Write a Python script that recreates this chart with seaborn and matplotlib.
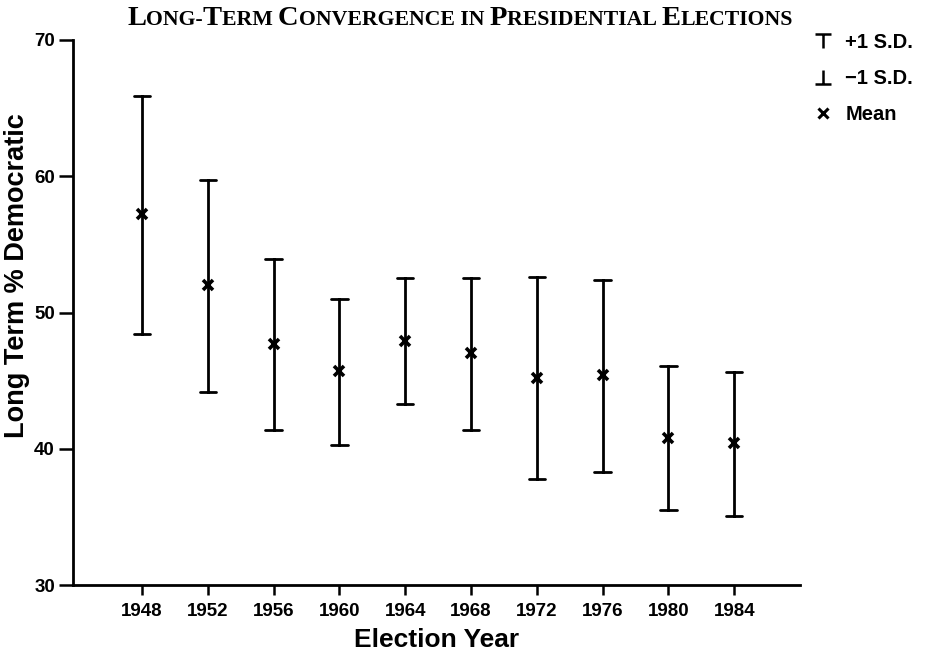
import numpy as np
import pandas as pd
import matplotlib
matplotlib.use("Agg")
import matplotlib.pyplot as plt
import seaborn as sns
from matplotlib.path import Path
from matplotlib.lines import Line2D

# ---- data ----
years = [1948, 1952, 1956, 1960, 1964, 1968, 1972, 1976, 1980, 1984]
plus_sd = [65.9, 59.7, 53.9, 51.0, 52.5, 52.5, 52.6, 52.4, 46.1, 45.6]
means = [57.2, 52.0, 47.7, 45.7, 47.9, 47.0, 45.2, 45.4, 40.8, 40.4]
minus_sd = [48.4, 44.2, 41.4, 40.3, 43.3, 41.4, 37.8, 38.3, 35.5, 35.1]
y_ticks = [30, 40, 50, 60, 70]
legend_labels = ["+1 S.D.", "\u22121 S.D.", "Mean"]

rows = []
for yr, lo, m, hi in zip(years, minus_sd, means, plus_sd):
    for v in (lo, m, hi):
        rows.append({"year": yr, "value": v})
df = pd.DataFrame(rows)

sns.set_style("ticks")
plt.rcParams["font.family"] = ["Liberation Sans", "DejaVu Sans"]
plt.rcParams["font.weight"] = "bold"
for k in ("text.color", "axes.labelcolor", "xtick.color", "ytick.color"):
    plt.rcParams[k] = "black"

fig = plt.figure(figsize=(9.25, 6.59), dpi=100)
ax = fig.add_axes([73 / 925, 74 / 659, (800 - 73) / 925, (585 - 40) / 659])

sns.pointplot(
    data=df, x="year", y="value",
    estimator="median",
    errorbar=lambda v: (v.min(), v.max()),
    native_scale=True,
    color="black",
    marker="x", linestyle="none",
    markersize=7.5, markeredgewidth=2.6,
    capsize=0.25,
    err_kws={"linewidth": 2.0},
    ax=ax,
)

ax.set_xlim(1943.8, 1988.0)
ax.set_ylim(30, 70)
ax.set_xticks(years)
ax.set_xticklabels([str(y) for y in years])
ax.set_yticks(y_ticks)
ax.set_yticklabels([str(t) for t in y_ticks])
ax.tick_params(axis="x", direction="out", length=7, width=1.8, labelsize=13.5, pad=6)
ax.tick_params(axis="y", direction="out", length=10, width=1.8, labelsize=13.5, pad=3)
for lbl in ax.get_xticklabels() + ax.get_yticklabels():
    lbl.set_fontweight("bold")
for side in ("top", "right"):
    ax.spines[side].set_visible(False)
for side in ("left", "bottom"):
    ax.spines[side].set_linewidth(2.0)
    ax.spines[side].set_color("black")

ax.set_xlabel("Election Year", fontsize=19, fontweight="bold", labelpad=6)
ax.set_ylabel("Long Term % Democratic", fontsize=19.5, fontweight="bold", labelpad=3)
ax.yaxis.label.set_y(0.567)

# ---- legend with custom T / inverted T markers ----
top_cap = Path([(-1, 0.8), (1, 0.8), (0, 0.8), (0, -0.8)],
               [Path.MOVETO, Path.LINETO, Path.MOVETO, Path.LINETO])
bot_cap = Path([(-1, -0.8), (1, -0.8), (0, -0.8), (0, 0.8)],
               [Path.MOVETO, Path.LINETO, Path.MOVETO, Path.LINETO])
handles = [
    Line2D([], [], marker=top_cap, linestyle="none", color="black",
           markersize=12, markeredgewidth=1.8),
    Line2D([], [], marker=bot_cap, linestyle="none", color="black",
           markersize=12, markeredgewidth=1.8),
    Line2D([], [], marker="x", linestyle="none", color="black",
           markersize=7, markeredgewidth=2.2),
]
leg = ax.legend(handles, legend_labels, loc="upper left",
                bbox_to_anchor=(795 / 925, 1 - 15 / 659),
                bbox_transform=fig.transFigure, frameon=False,
                handlelength=1.0, handletextpad=0.6, labelspacing=0.85,
                prop={"weight": "bold", "size": 14.5})

# ---- small-caps title ----
pieces = [("L", 20.5), ("ONG-", 15.7), ("T", 20.5), ("ERM ", 15.7), ("C", 20.5),
          ("ONVERGENCE IN ", 15.7), ("P", 20.5), ("RESIDENTIAL ", 15.7),
          ("E", 20.5), ("LECTIONS", 15.7)]
base_y = 1 - 25 / 659
prev = None
for txt, sz in pieces:
    kw = dict(fontsize=sz, fontfamily="Liberation Serif", fontweight="bold",
              va="baseline", ha="left", color="black")
    if prev is None:
        prev = fig.text(127 / 925, base_y, txt, **kw)
    else:
        prev = ax.annotate(txt, xy=(1, base_y),
                           xycoords=(prev, "figure fraction"),
                           annotation_clip=False, **kw)

fig.savefig("out.png", dpi=100)
